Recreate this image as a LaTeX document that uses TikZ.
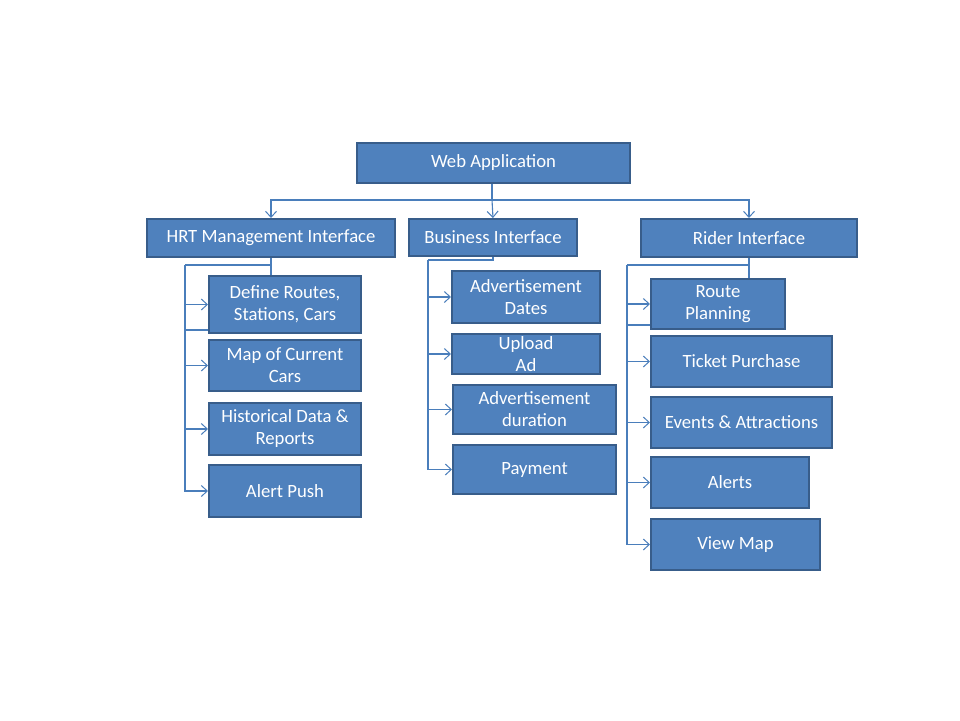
\documentclass[tikz,border=0pt]{standalone}
\usepackage{fontspec}
\setmainfont{Carlito}
\usetikzlibrary{arrows.meta}
\definecolor{boxfill}{HTML}{4F81BD}
\definecolor{boxline}{HTML}{385D8A}
\definecolor{connc}{HTML}{4A7EBB}
\begin{document}
\begin{tikzpicture}[x=1pt,y=-1pt,
  box/.style={draw=boxline, line width=2pt, fill=boxfill, text=white, anchor=north west,
    inner sep=0pt, align=center, font=\fontsize{18.7}{22}\selectfont},
  conn/.style={draw=connc, line width=1.1pt},
  arr/.style={conn, -{Straight Barb[length=6pt,width=11pt,line width=1pt]}}]
\useasboundingbox (0,0) rectangle (960,720);
\fill[white] (0,0) rectangle (960,720);
% top level
\node[box, minimum width=273pt, minimum height=40pt] (web) at (356,142) {Web Application};
\node[box, minimum width=248pt, minimum height=38pt] (hrt) at (146,218) {HRT Management Interface};
\node[box, minimum width=168pt, minimum height=37pt] (bus) at (408,218) {Business Interface};
\node[box, minimum width=216pt, minimum height=38pt] (rid) at (640,218) {Rider Interface};
% HRT children
\node[box, minimum width=152pt, minimum height=57pt] (def) at (208,275) {Define Routes,\\Stations, Cars};
\node[box, minimum width=152pt, minimum height=51pt] (map) at (208,339) {Map of Current\\Cars};
\node[box, minimum width=152pt, minimum height=52pt] (his) at (208,402) {Historical Data \&\\Reports};
\node[box, minimum width=152pt, minimum height=52pt] (alp) at (208,464) {Alert Push};
% Business children
\node[box, minimum width=148pt, minimum height=52pt] (add) at (451,270) {Advertisement\\Dates};
\node[box, minimum width=148pt, minimum height=40pt] (upl) at (451,333) {Upload\\Ad};
\node[box, minimum width=163pt, minimum height=49pt] (adu) at (452,384) {Advertisement\\duration};
\node[box, minimum width=163pt, minimum height=49pt] (pay) at (452,444) {Payment};
% Rider children
\node[box, minimum width=134pt, minimum height=50pt] (rpl) at (650,278) {Route\\Planning};
\node[box, minimum width=181pt, minimum height=51pt] (tik) at (650,335) {Ticket Purchase};
\node[box, minimum width=181pt, minimum height=51pt] (eva) at (650,396) {Events \& Attractions};
\node[box, minimum width=158pt, minimum height=51pt] (ale) at (650,456) {Alerts};
\node[box, minimum width=169pt, minimum height=51pt] (vmp) at (650,518) {View Map};
% top connectors
\coordinate (tj) at (492,200);
\draw[conn] (tj |- web.south) -- (tj);
\draw[arr] (tj) -| (hrt.north);
\draw[arr] (tj) -- (bus.north);
\draw[arr] (tj) -| (rid.north);
% HRT tree
\coordinate (hb) at (185,265);
\coordinate (hx) at (185,330);
\draw[conn] (hrt.south) |- (hb);
\draw[conn] (hrt.south) -- (def.north -| hrt.south);
\draw[arr] (hb) |- (def.west);
\draw[arr] (hb) |- (map.west);
\draw[arr] (hb) |- (his.west);
\draw[arr] (hb) |- (alp.west);
\draw[conn] (hx) -- (hx -| def.west);
% Business tree
\coordinate (bb) at (428,260);
\draw[conn] (bus.south) |- (bb);
\draw[arr] (bb) |- (add.west);
\draw[arr] (bb) |- (upl.west);
\draw[arr] (bb) |- (adu.west);
\draw[arr] (bb) |- (pay.west);
% Rider tree
\coordinate (rb) at (627,265);
\coordinate (rx) at (627,325);
\draw[conn] (rid.south) |- (rb);
\draw[conn] (rid.south) -- (rpl.north -| rid.south);
\draw[arr] (rb) |- (rpl.west);
\draw[arr] (rb) |- (tik.west);
\draw[arr] (rb) |- (eva.west);
\draw[arr] (rb) |- (ale.west);
\draw[arr] (rb) |- (vmp.west);
\draw[conn] (rx) -- (rx -| rpl.west);
\end{tikzpicture}
\end{document}
